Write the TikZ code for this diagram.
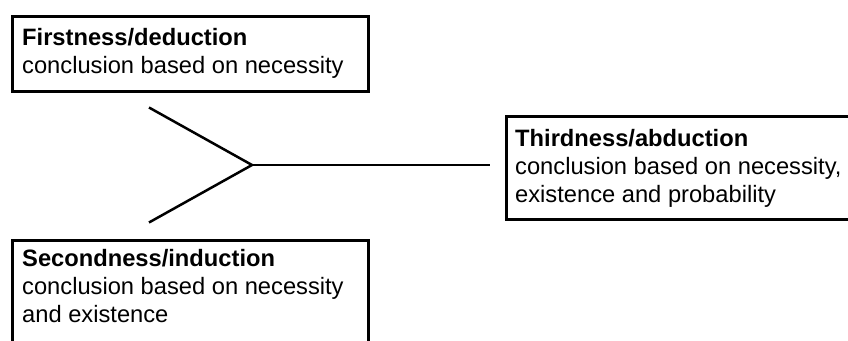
\documentclass[tikz,border=0pt]{standalone}
\usepackage{fontspec}
\setmainfont{Liberation Sans}
\begin{document}
\begin{tikzpicture}[x=1pt,y=-1pt,
  frame/.style={draw=black,line width=3pt,rectangle,inner sep=0pt,anchor=north west},
  caption/.style={anchor=north west,inner sep=0pt,align=left,
    font=\fontsize{23.7}{28}\selectfont},
  branch/.style={draw=black,line width=2.5pt,line join=miter}]
  \useasboundingbox (0,0) rectangle (848,340);
  \begin{scope}
    \clip (0,0) rectangle (848,340);
    % boxes
    \node[frame,minimum width=356pt,minimum height=75pt] (first) at (10.5,14.5) {};
    \node[frame,minimum width=356pt,minimum height=130pt] (second) at (10.5,238.5) {};
    \node[frame,minimum width=360pt,minimum height=103.5pt] (third) at (504.5,114.5) {};
  \end{scope}
  % texts
  \node[caption] (firstT) at (22,27.7) {\textbf{Firstness/deduction}\\conclusion based on necessity};
  \node[caption] (secondT) at (22,248.7) {\textbf{Secondness/induction}\\conclusion based on necessity\\and existence};
  \node[caption] (thirdT) at (515,128.7) {\textbf{Thirdness/abduction}\\conclusion based on necessity,\\existence and probability};
  % fork connector
  \coordinate (fork) at (252,165);
  \coordinate (upper) at (149,107.5);
  \coordinate (lower) at (149,222.5);
  \coordinate (tip) at (490,165);
  \draw[branch] (upper) -- (fork) -- (lower);
  \draw[branch] (fork) -- (tip);
\end{tikzpicture}
\end{document}
